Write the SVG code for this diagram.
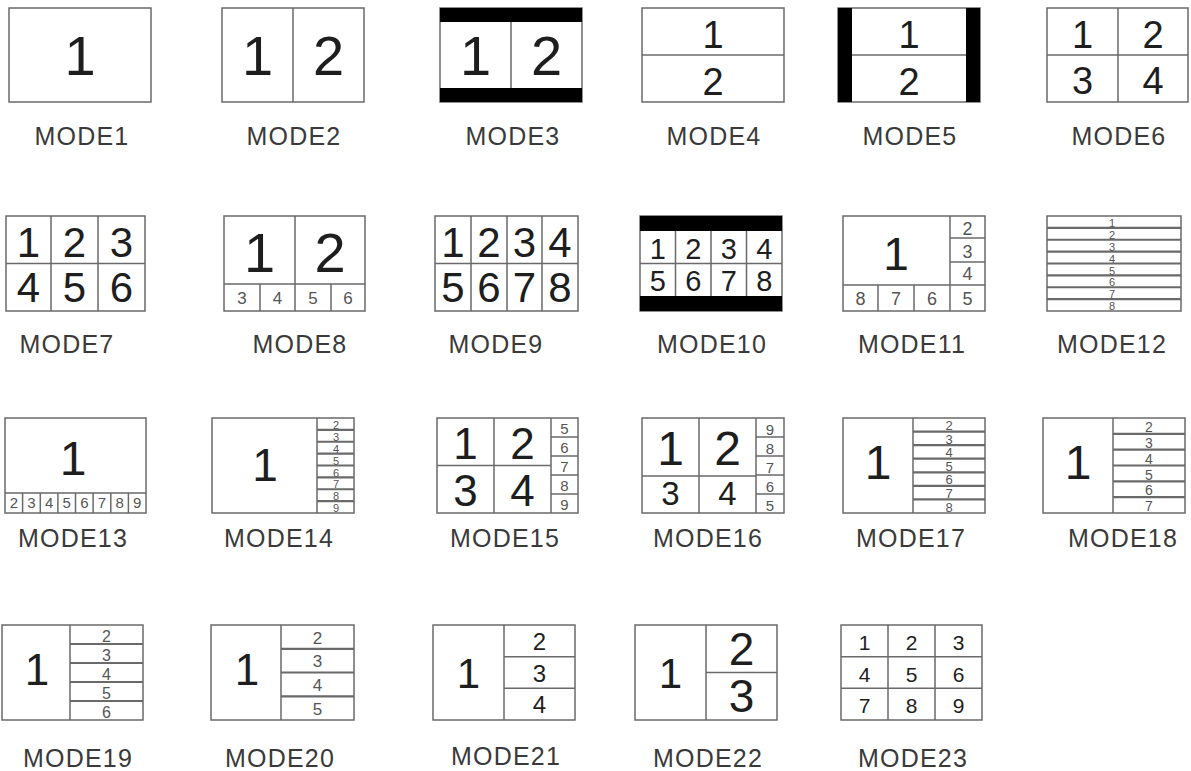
<svg xmlns="http://www.w3.org/2000/svg" width="1191" height="771" viewBox="0 0 1191 771">
<style>
.b{fill:#fff;stroke:#6a6a6a;stroke-width:1.5}
.l{stroke:#6a6a6a;stroke-width:1.5;fill:none}
.dl{stroke:#6a6a6a;stroke-width:2.2;fill:none}
.k{fill:#000}
text{font-family:"Liberation Sans",Arial,sans-serif;fill:#1e1e1e;text-anchor:middle}
.s{fill:#555}
.lab{font-size:25px;letter-spacing:1.2px;fill:#3a3a3a}
</style>
<rect width="1191" height="771" fill="#fff"/>
<g id="connectors"/>
<!-- Row 1 -->
<g id="mode1">
<rect class="b" x="9" y="8" width="142" height="94"/>
<text x="80" y="75" font-size="56">1</text>
<text class="lab" x="82" y="145">MODE1</text>
</g>
<g id="mode2">
<rect class="b" x="222" y="8" width="142" height="94"/>
<path class="l" d="M293 8V102"/>
<text x="257.5" y="75" font-size="56">1</text>
<text x="328.5" y="75" font-size="56">2</text>
<text class="lab" x="294" y="145">MODE2</text>
</g>
<g id="mode3">
<rect class="b" x="440" y="8" width="142" height="94"/>
<rect class="k" x="440" y="8" width="142" height="14"/>
<rect class="k" x="440" y="88" width="142" height="14"/>
<path class="l" d="M511 22V88"/>
<text x="475.5" y="75" font-size="56">1</text>
<text x="546.5" y="75" font-size="56">2</text>
<text class="lab" x="513" y="145">MODE3</text>
</g>
<g id="mode4">
<rect class="b" x="642" y="8" width="142" height="94"/>
<path class="l" d="M642 55H784"/>
<text x="713" y="48" font-size="38">1</text>
<text x="713" y="95" font-size="38">2</text>
<text class="lab" x="714" y="145">MODE4</text>
</g>
<g id="mode5">
<rect class="b" x="838" y="8" width="142" height="94"/>
<rect class="k" x="838" y="8" width="14" height="94"/>
<rect class="k" x="966" y="8" width="14" height="94"/>
<path class="l" d="M852 55H966"/>
<text x="909" y="48" font-size="38">1</text>
<text x="909" y="95" font-size="38">2</text>
<text class="lab" x="910" y="145">MODE5</text>
</g>
<g id="mode6">
<rect class="b" x="1047" y="8" width="141" height="94"/>
<path class="l" d="M1118 8V102M1047 55H1188"/>
<text x="1082.5" y="48" font-size="38">1</text>
<text x="1153" y="48" font-size="38">2</text>
<text x="1082.5" y="94" font-size="38">3</text>
<text x="1153" y="94" font-size="38">4</text>
<text class="lab" x="1119" y="145">MODE6</text>
</g>
<!-- Row 2 -->
<g id="mode7">
<rect class="b" x="6" y="216" width="139" height="95"/>
<path class="l" d="M51 216V311M98 216V311M6 263.5H145"/>
<text x="28.5" y="257" font-size="42">1</text>
<text x="74.5" y="257" font-size="42">2</text>
<text x="121.5" y="257" font-size="42">3</text>
<text x="28.5" y="302" font-size="42">4</text>
<text x="74.5" y="302" font-size="42">5</text>
<text x="121.5" y="302" font-size="42">6</text>
<text class="lab" x="67" y="353">MODE7</text>
</g>
<g id="mode8">
<rect class="b" x="224" y="216" width="141" height="95"/>
<path class="l" d="M295 216V311M224 284H365M260 284V311M331 284V311"/>
<text x="259.5" y="272" font-size="56">1</text>
<text x="330" y="272" font-size="56">2</text>
<text class="s" x="242" y="304" font-size="17">3</text>
<text class="s" x="277.5" y="304" font-size="17">4</text>
<text class="s" x="313" y="304" font-size="17">5</text>
<text class="s" x="348" y="304" font-size="17">6</text>
<text class="lab" x="300" y="353">MODE8</text>
</g>
<g id="mode9">
<rect class="b" x="435" y="216" width="143" height="95"/>
<path class="l" d="M471 216V311M507 216V311M542 216V311M435 263.5H578"/>
<text x="453" y="257" font-size="42">1</text>
<text x="489" y="257" font-size="42">2</text>
<text x="524.5" y="257" font-size="42">3</text>
<text x="560" y="257" font-size="42">4</text>
<text x="453" y="302" font-size="42">5</text>
<text x="489" y="302" font-size="42">6</text>
<text x="524.5" y="302" font-size="42">7</text>
<text x="560" y="302" font-size="42">8</text>
<text class="lab" x="496" y="353">MODE9</text>
</g>
<g id="mode10">
<rect class="b" x="640" y="216" width="142" height="95"/>
<rect class="k" x="640" y="216" width="142" height="15"/>
<rect class="k" x="640" y="296" width="142" height="15"/>
<path class="l" d="M675.5 231V296M711 231V296M746.5 231V296M640 263.5H782"/>
<text x="657.75" y="259" font-size="29">1</text>
<text x="693.25" y="259" font-size="29">2</text>
<text x="728.75" y="259" font-size="29">3</text>
<text x="764.25" y="259" font-size="29">4</text>
<text x="657.75" y="291" font-size="29">5</text>
<text x="693.25" y="291" font-size="29">6</text>
<text x="728.75" y="291" font-size="29">7</text>
<text x="764.25" y="291" font-size="29">8</text>
<text class="lab" x="712" y="353">MODE10</text>
</g>
<g id="mode11">
<rect class="b" x="843" y="216" width="142" height="95"/>
<path class="l" d="M950 216V311M950 238H985M950 262H985M843 285H985M878 285V311M914 285V311"/>
<text x="896" y="270" font-size="46">1</text>
<text class="s" x="967.5" y="235" font-size="18">2</text>
<text class="s" x="967.5" y="258" font-size="18">3</text>
<text class="s" x="967.5" y="280" font-size="18">4</text>
<text class="s" x="967.5" y="305" font-size="18">5</text>
<text class="s" x="860.5" y="305" font-size="18">8</text>
<text class="s" x="896" y="305" font-size="18">7</text>
<text class="s" x="932" y="305" font-size="18">6</text>
<text class="lab" x="912" y="353">MODE11</text>
</g>
<g id="mode12">
<rect class="b" x="1047" y="216" width="134" height="95"/>
<path class="dl" d="M1047 227.9H1181M1047 239.75H1181M1047 251.6H1181M1047 263.5H1181M1047 275.4H1181M1047 287.25H1181M1047 299.1H1181"/>
<text class="s" x="1112" y="227" font-size="11">1</text>
<text class="s" x="1112" y="238.9" font-size="11">2</text>
<text class="s" x="1112" y="250.8" font-size="11">3</text>
<text class="s" x="1112" y="262.6" font-size="11">4</text>
<text class="s" x="1112" y="274.5" font-size="11">5</text>
<text class="s" x="1112" y="286.4" font-size="11">6</text>
<text class="s" x="1112" y="298.3" font-size="11">7</text>
<text class="s" x="1112" y="310.1" font-size="11">8</text>
<text class="lab" x="1112" y="353">MODE12</text>
</g>
<!-- Row 3 -->
<g id="mode13">
<rect class="b" x="5" y="418" width="141" height="95"/>
<path class="l" d="M5 493H146M22.6 493V513M40.3 493V513M57.9 493V513M75.5 493V513M93.1 493V513M110.8 493V513M128.4 493V513"/>
<text x="73" y="475" font-size="48">1</text>
<text class="s" x="13.8" y="508" font-size="15">2</text>
<text class="s" x="31.4" y="508" font-size="15">3</text>
<text class="s" x="49.1" y="508" font-size="15">4</text>
<text class="s" x="66.7" y="508" font-size="15">5</text>
<text class="s" x="84.3" y="508" font-size="15">6</text>
<text class="s" x="101.9" y="508" font-size="15">7</text>
<text class="s" x="119.6" y="508" font-size="15">8</text>
<text class="s" x="137.2" y="508" font-size="15">9</text>
<text class="lab" x="73" y="547">MODE13</text>
</g>
<g id="mode14">
<rect class="b" x="212" y="418" width="142" height="95"/>
<path class="l" d="M317 418V513"/>
<path class="dl" d="M317 429.9H354M317 441.75H354M317 453.6H354M317 465.5H354M317 477.4H354M317 489.25H354M317 501.1H354"/>
<text class="s" x="336" y="429" font-size="11">2</text>
<text class="s" x="336" y="440.9" font-size="11">3</text>
<text class="s" x="336" y="452.8" font-size="11">4</text>
<text class="s" x="336" y="464.6" font-size="11">5</text>
<text class="s" x="336" y="476.5" font-size="11">6</text>
<text class="s" x="336" y="488.4" font-size="11">7</text>
<text class="s" x="336" y="500.3" font-size="11">8</text>
<text class="s" x="336" y="512.1" font-size="11">9</text>
<text x="265" y="481" font-size="46">1</text>
<text class="lab" x="279" y="547">MODE14</text>
</g>
<g id="mode15">
<rect class="b" x="437" y="418" width="141" height="95"/>
<path class="l" d="M494 418V513M551 418V513M437 465.5H551M551 437H578M551 456H578M551 475H578M551 494H578"/>
<text x="465.5" y="459" font-size="44">1</text>
<text x="522.5" y="459" font-size="44">2</text>
<text x="465.5" y="506" font-size="44">3</text>
<text x="522.5" y="506" font-size="44">4</text>
<text class="s" x="564.5" y="434" font-size="15">5</text>
<text class="s" x="564.5" y="453" font-size="15">6</text>
<text class="s" x="564.5" y="472" font-size="15">7</text>
<text class="s" x="564.5" y="491" font-size="15">8</text>
<text class="s" x="564.5" y="510" font-size="15">9</text>
<text class="lab" x="505" y="547">MODE15</text>
</g>
<g id="mode16">
<rect class="b" x="642" y="418" width="142" height="95"/>
<path class="l" d="M699 418V513M756 418V513M642 476H756M756 437H784M756 456H784M756 475H784M756 494H784"/>
<text x="670.5" y="465" font-size="48">1</text>
<text x="727.5" y="465" font-size="48">2</text>
<text x="670.5" y="505" font-size="33">3</text>
<text x="727.5" y="505" font-size="33">4</text>
<text class="s" x="770" y="435" font-size="15">9</text>
<text class="s" x="770" y="454" font-size="15">8</text>
<text class="s" x="770" y="473" font-size="15">7</text>
<text class="s" x="770" y="492" font-size="15">6</text>
<text class="s" x="770" y="511" font-size="15">5</text>
<text class="lab" x="708" y="547">MODE16</text>
</g>
<g id="mode17">
<rect class="b" x="843" y="418" width="142" height="95"/>
<path class="l" d="M913 418V513"/>
<path class="dl" d="M913 431.6H985M913 445.1H985M913 458.7H985M913 472.3H985M913 485.9H985M913 499.4H985"/>
<text class="s" x="949" y="430" font-size="13">2</text>
<text class="s" x="949" y="443.6" font-size="13">3</text>
<text class="s" x="949" y="457.2" font-size="13">4</text>
<text class="s" x="949" y="470.8" font-size="13">5</text>
<text class="s" x="949" y="484.3" font-size="13">6</text>
<text class="s" x="949" y="497.9" font-size="13">7</text>
<text class="s" x="949" y="511.5" font-size="13">8</text>
<text x="878" y="479" font-size="48">1</text>
<text class="lab" x="911" y="547">MODE17</text>
</g>
<g id="mode18">
<rect class="b" x="1043" y="418" width="142" height="95"/>
<path class="l" d="M1113 418V513"/>
<path class="dl" d="M1113 433.8H1185M1113 449.7H1185M1113 465.5H1185M1113 481.3H1185M1113 497.2H1185"/>
<text class="s" x="1149" y="432" font-size="14">2</text>
<text class="s" x="1149" y="447.8" font-size="14">3</text>
<text class="s" x="1149" y="463.7" font-size="14">4</text>
<text class="s" x="1149" y="479.5" font-size="14">5</text>
<text class="s" x="1149" y="495.3" font-size="14">6</text>
<text class="s" x="1149" y="511.2" font-size="14">7</text>
<text x="1078" y="479" font-size="48">1</text>
<text class="lab" x="1123" y="547">MODE18</text>
</g>
<!-- Row 4 -->
<g id="mode19">
<rect class="b" x="2" y="625" width="141" height="95"/>
<path class="l" d="M70 625V720"/>
<path class="dl" d="M70 644H143M70 663H143M70 682H143M70 701H143"/>
<text class="s" x="106.5" y="642" font-size="16">2</text>
<text class="s" x="106.5" y="661" font-size="16">3</text>
<text class="s" x="106.5" y="680" font-size="16">4</text>
<text class="s" x="106.5" y="699" font-size="16">5</text>
<text class="s" x="106.5" y="718" font-size="16">6</text>
<text x="37" y="685" font-size="44">1</text>
<text class="lab" x="78" y="767">MODE19</text>
</g>
<g id="mode20">
<rect class="b" x="211" y="625" width="143" height="95"/>
<path class="l" d="M281 625V720"/>
<path class="dl" d="M281 648.8H354M281 672.5H354M281 696.3H354"/>
<text class="s" x="317.5" y="643.5" font-size="17">2</text>
<text class="s" x="317.5" y="667.3" font-size="17">3</text>
<text class="s" x="317.5" y="691" font-size="17">4</text>
<text class="s" x="317.5" y="714.8" font-size="17">5</text>
<text x="247" y="685" font-size="44">1</text>
<text class="lab" x="280" y="767">MODE20</text>
</g>
<g id="mode21">
<rect class="b" x="433" y="625" width="142" height="95"/>
<path class="l" d="M504 625V720M504 656.7H575M504 688.3H575"/>
<text x="539.5" y="650" font-size="24">2</text>
<text x="539.5" y="682" font-size="24">3</text>
<text x="539.5" y="713" font-size="24">4</text>
<text x="468.5" y="688" font-size="42">1</text>
<text class="lab" x="506" y="765">MODE21</text>
</g>
<g id="mode22">
<rect class="b" x="635" y="625" width="142" height="95"/>
<path class="l" d="M706 625V720M706 672.5H777"/>
<text x="670.5" y="688" font-size="42">1</text>
<text x="741.5" y="665" font-size="46">2</text>
<text x="741.5" y="712" font-size="46">3</text>
<text class="lab" x="708" y="767">MODE22</text>
</g>
<g id="mode23">
<rect class="b" x="841" y="625" width="141" height="95"/>
<path class="l" d="M888 625V720M935 625V720M841 656.7H982M841 688.3H982"/>
<text x="864.5" y="650" font-size="21">1</text>
<text x="911.5" y="650" font-size="21">2</text>
<text x="958.5" y="650" font-size="21">3</text>
<text x="864.5" y="682" font-size="21">4</text>
<text x="911.5" y="682" font-size="21">5</text>
<text x="958.5" y="682" font-size="21">6</text>
<text x="864.5" y="713" font-size="21">7</text>
<text x="911.5" y="713" font-size="21">8</text>
<text x="958.5" y="713" font-size="21">9</text>
<text class="lab" x="913" y="767">MODE23</text>
</g>
</svg>
